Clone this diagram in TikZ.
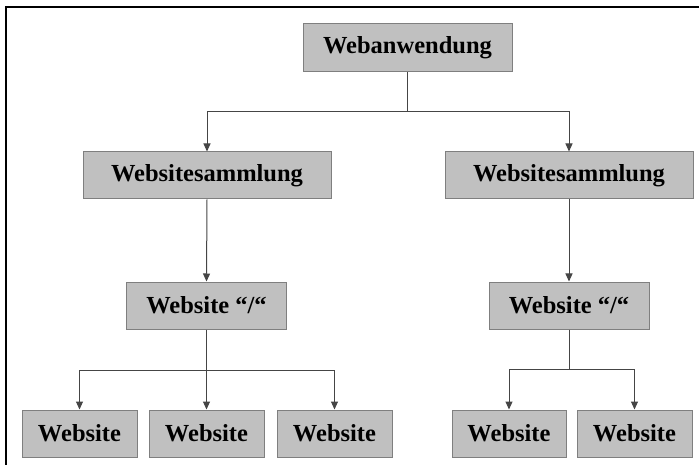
\documentclass[tikz,border=0pt]{standalone}
\usepackage{fontspec}
\setmainfont{Liberation Serif}
\usetikzlibrary{arrows.meta}
\definecolor{boxgray}{HTML}{C0C0C0}
\definecolor{edgegray}{HTML}{7F7F7F}
\definecolor{linegray}{HTML}{454545}
\tikzset{
  box/.style={draw=edgegray,fill=boxgray,line width=1pt,inner sep=0pt,
    minimum height=47pt,font=\fontsize{24.5}{28}\selectfont\bfseries},
  arr/.style={draw=linegray,line width=1pt,-{Triangle[length=8pt,width=7pt]}},
  link/.style={draw=linegray,line width=1pt}
}
\begin{document}
\begin{tikzpicture}[x=1pt,y=-1pt]
	\useasboundingbox (0,0) rectangle (699,465);
	%frame
	\draw[line width=2.5pt] (6,465) -- (6,7) -- (699,7);

	%boxes
	\node[box,minimum width=209pt,minimum height=48pt] (web) at (407.5,48) {Webanwendung};
	\node[box,minimum width=248pt] (samml1) at (207,175.5) {Websitesammlung};
	\node[box,minimum width=248pt] (samml2) at (569,175.5) {Websitesammlung};
	\node[box,minimum width=160pt] (root1) at (206.5,305.5) {Website ``/``};
	\node[box,minimum width=160pt] (root2) at (569,305.5) {Website ``/``};
	\node[box,minimum width=115pt] (site1) at (79.5,433.5) {Website};
	\node[box,minimum width=115pt] (site2) at (206.5,433.5) {Website};
	\node[box,minimum width=115pt] (site3) at (334.5,433.5) {Website};
	\node[box,minimum width=114pt] (site4) at (509,433.5) {Website};
	\node[box,minimum width=115pt] (site5) at (634.5,433.5) {Website};

	%bus lines
	\coordinate (bus0) at (0,112);
	\coordinate (bus1) at (0,370);
	\coordinate (bus2) at (0,369);

	%arrows
	\draw[link] (web.south) -- (web.south |- bus0);
	\draw[arr] (web.south |- bus0) -| (samml1.north);
	\draw[arr] (web.south |- bus0) -| (samml2.north);
	\draw[arr] (samml1.south) -- (root1.north);
	\draw[arr] (samml2.south) -- (root2.north);
	\draw[link] (root1.south) -- (root1.south |- bus1);
	\draw[arr] (root1.south |- bus1) -| (site1.north);
	\draw[arr] (root1.south |- bus1) -- (site2.north);
	\draw[arr] (root1.south |- bus1) -| (site3.north);
	\draw[link] (root2.south) -- (root2.south |- bus2);
	\draw[arr] (root2.south |- bus2) -| (site4.north);
	\draw[arr] (root2.south |- bus2) -| (site5.north);
\end{tikzpicture}
\end{document}
